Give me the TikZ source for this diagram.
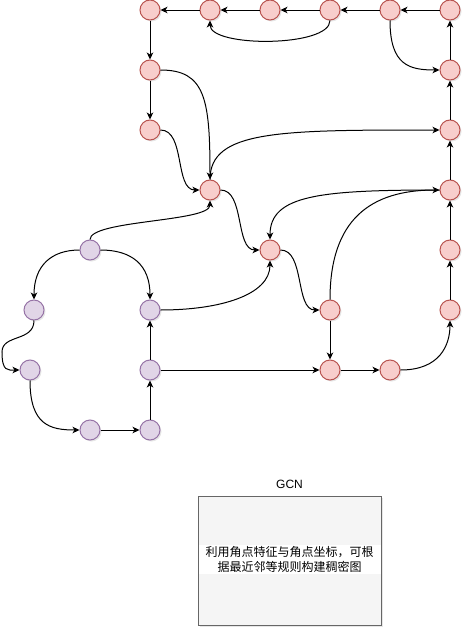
\documentclass[tikz,border=0pt]{standalone}
\usepackage{fontspec}
\setmainfont{Liberation Sans}
\newfontfamily\cjk{Noto Sans CJK SC}
\usetikzlibrary{arrows.meta,shadows}
\definecolor{redfill}{HTML}{F8CECC}
\definecolor{redline}{HTML}{B85450}
\definecolor{purfill}{HTML}{E1D5E7}
\definecolor{purline}{HTML}{9673A6}
\definecolor{boxfill}{HTML}{F5F5F5}
\definecolor{boxline}{HTML}{666666}
\begin{document}
\begin{tikzpicture}[x=1pt,y=-1pt,
  vtx/.style={circle,minimum size=20pt,inner sep=0pt,line width=1pt,
    drop shadow={shadow xshift=1.5pt,shadow yshift=-1.5pt,opacity=0.2}},
  rv/.style={vtx,fill=redfill,draw=redline},
  pv/.style={vtx,fill=purfill,draw=purline},
  edge/.style={line width=1pt,-{Stealth[length=7pt,width=6.5pt,inset=2pt]}}]
\useasboundingbox (0,0) rectangle (472,637);
% red vertices
\node[rv] (t1) at (150,10) {};
\node[rv] (t2) at (210,10) {};
\node[rv] (t3) at (270,10) {};
\node[rv] (t4) at (330,10) {};
\node[rv] (t5) at (390,10) {};
\node[rv] (t6) at (450,10) {};
\node[rv] (l2) at (150,70) {};
\node[rv] (l3) at (150,130) {};
\node[rv] (c) at (210,190) {};
\node[rv] (r2) at (450,70) {};
\node[rv] (r3) at (450,130) {};
\node[rv] (r4) at (450,190) {};
\node[rv] (r5) at (450,250) {};
\node[rv] (r6) at (450,310) {};
\node[rv] (m) at (270,250) {};
\node[rv] (n) at (330,310) {};
\node[rv] (p) at (330,370) {};
\node[rv] (q) at (390,370) {};
% purple vertices
\node[pv] (pa) at (90,250) {};
\node[pv] (pb) at (34,310) {};
\node[pv] (pc) at (30,370) {};
\node[pv] (pd) at (150,310) {};
\node[pv] (pe) at (150,370) {};
\node[pv] (pf) at (90,430) {};
\node[pv] (pg) at (150,430) {};
% top row
\draw[edge] (t6) -- (t5);
\draw[edge] (t5) -- (t4);
\draw[edge] (t4) -- (t3);
\draw[edge] (t3) -- (t2);
\draw[edge] (t2) -- (t1);
\draw[edge] (t4.south) .. controls +(0,27) and +(0,27) .. (t2.south);
\draw[edge] (t5.south) .. controls +(0,45) and +(-30,0) .. (r2.west);
% left column
\draw[edge] (t1) -- (l2);
\draw[edge] (l2) -- (l3);
\draw[edge] (l2.east) .. controls +(45,0) and +(0,-80) .. (c.north);
\draw[edge] (l3.east) .. controls +(25,0) and +(-25,0) .. (c.west);
% right column
\draw[edge] (r2) -- (t6);
\draw[edge] (r3) -- (r2);
\draw[edge] (r4) -- (r3);
\draw[edge] (r5) -- (r4);
\draw[edge] (r6) -- (r5);
% middle
\draw[edge] (c.north) .. controls (210,130) and (280,130) .. (r3.west);
\draw[edge] (c.east) .. controls (245,190) and (235,250) .. (m.west);
\draw[edge] (m.east) .. controls (305,250) and (295,310) .. (n.west);
\draw[edge] (r4.west) .. controls (320,190) and (270,195) .. (m.north);
\draw[edge] (n.north) .. controls (330,220) and (370,190) .. (r4.west);
\draw[edge] (n) -- (p);
\draw[edge] (p) -- (q);
\draw[edge] (q.east) .. controls (440,370) and (450,345) .. (r6.south);
% purple edges
\draw[edge] (pa.north) .. controls (90,220) and (210,222) .. (c.south);
\draw[edge] (pa.west) .. controls (52,250) and (34,265) .. (pb.north);
\draw[edge] (pa.east) .. controls (132,250) and (150,265) .. (pd.north);
\draw[edge] (pd.east) .. controls (220,310) and (270,295) .. (m.south);
\draw[edge] (pb.south) .. controls (34,342) and (2,334) .. (2,352)
  .. controls (2,372) and (8,370) .. (pc.west);
\draw[edge] (pc.south) .. controls (30,425) and (50,430) .. (pf.west);
\draw[edge] (pf) -- (pg);
\draw[edge] (pg) -- (pe);
\draw[edge] (pe) -- (pd);
\draw[edge] (pe) -- (p);
% GCN box
\node[draw=boxline,fill=boxfill,line width=1pt,minimum width=183pt,minimum height=129pt,
  inner sep=0pt,drop shadow={shadow xshift=2pt,shadow yshift=-2pt,opacity=0.2}]
  (box) at (289.5,560.5) {};
\node[fill=white,minimum width=182pt,minimum height=29pt,inner sep=0pt,align=center,
  font=\cjk\fontsize{12}{15.6}\selectfont] (txt) at (289.5,559.5)
  {利用角点特征与角点坐标，可根\\据最近邻等规则构建稠密图};
\node[font=\fontsize{12}{14}\selectfont,anchor=south] (gcn) at (box.north) [yshift=3pt] {GCN};
\end{tikzpicture}
\end{document}
